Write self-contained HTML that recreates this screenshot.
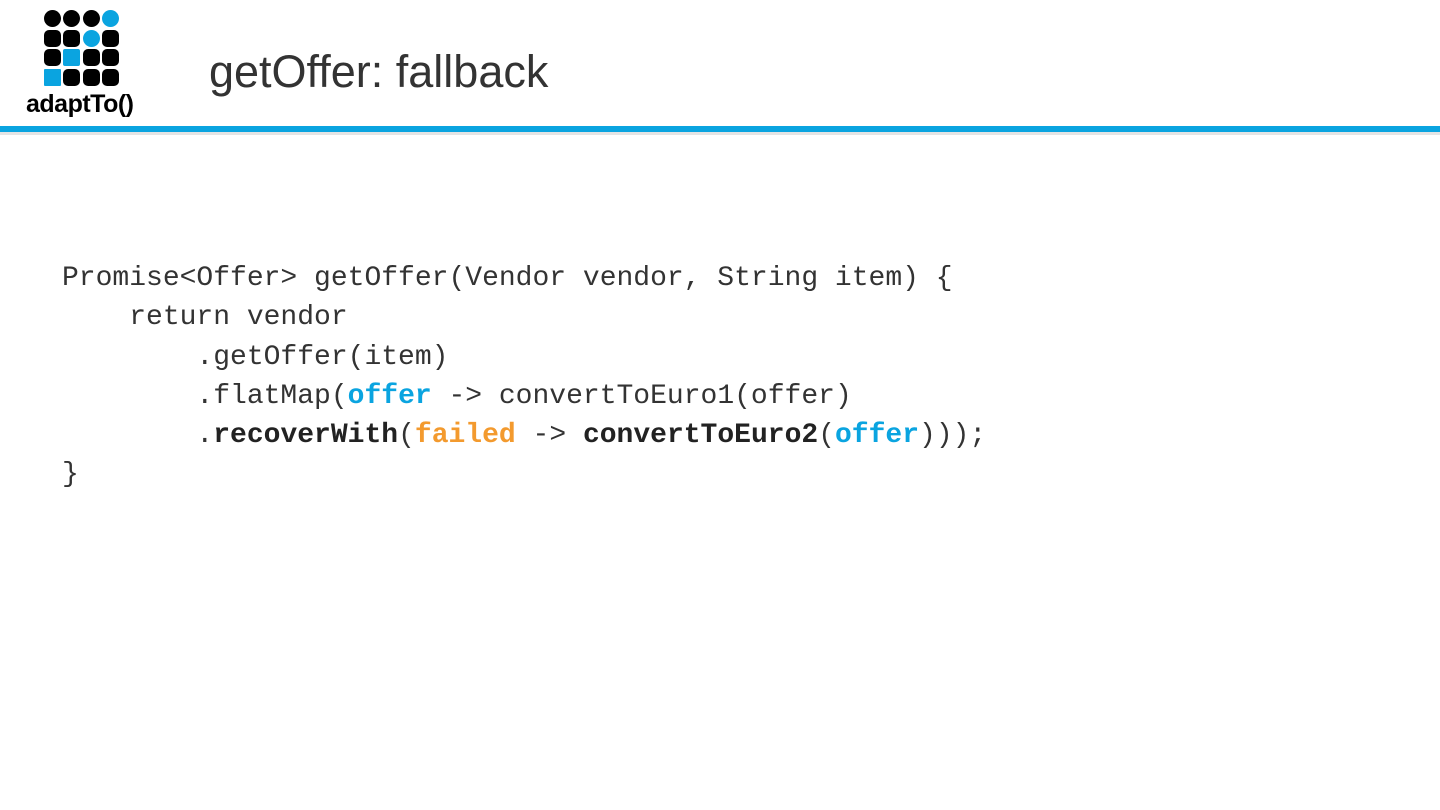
<!DOCTYPE html>
<html><head><style>
body{margin:0;width:1440px;height:810px;background:#fff;position:relative;overflow:hidden;font-family:"Liberation Sans",sans-serif}
.c{position:absolute;width:17px;height:17px;background:#000;border-radius:5px}
.b{background:#0aa4e0}
.r{border-radius:50%}
pre{position:absolute;left:62px;top:259px;margin:0;font-family:"Liberation Mono",monospace;font-size:28px;line-height:39.3px;color:#333}
.bl{color:#0aa4e0;font-weight:bold}.or{color:#f39a2e;font-weight:bold}.k{font-weight:bold;color:#222}
</style></head><body>
<div class="c r" style="left:44px;top:10px"></div><div class="c r" style="left:63px;top:10px"></div><div class="c r" style="left:83px;top:10px"></div><div class="c r b" style="left:102px;top:10px"></div>
<div class="c" style="left:44px;top:30px"></div><div class="c" style="left:63px;top:30px"></div><div class="c r b" style="left:83px;top:30px"></div><div class="c" style="left:102px;top:30px"></div>
<div class="c" style="left:44px;top:49px"></div><div class="c b" style="left:63px;top:49px;border-radius:2px"></div><div class="c" style="left:83px;top:49px"></div><div class="c" style="left:102px;top:49px"></div>
<div class="c b" style="left:44px;top:69px;border-radius:1px"></div><div class="c" style="left:63px;top:69px"></div><div class="c" style="left:83px;top:69px"></div><div class="c" style="left:102px;top:69px"></div>
<div style="position:absolute;left:26px;top:90px;font-size:25px;font-weight:bold;letter-spacing:-0.5px;color:#000">adaptTo()</div>
<div style="position:absolute;left:209px;top:46px;font-size:45px;color:#333">getOffer: fallback</div>
<div style="position:absolute;left:0;top:126px;width:1440px;height:6px;background:#0aa4e0"></div>
<div style="position:absolute;left:0;top:132px;width:1440px;height:3px;background:#e4e4e4"></div>
<pre>Promise&lt;Offer&gt; getOffer(Vendor vendor, String item) {
    return vendor
        .getOffer(item)
        .flatMap(<span class="bl">offer</span> -&gt; convertToEuro1(offer)
        .<span class="k">recoverWith</span>(<span class="or">failed</span> -&gt; <span class="k">convertToEuro2</span>(<span class="bl">offer</span>)));
}</pre>
</body></html>
